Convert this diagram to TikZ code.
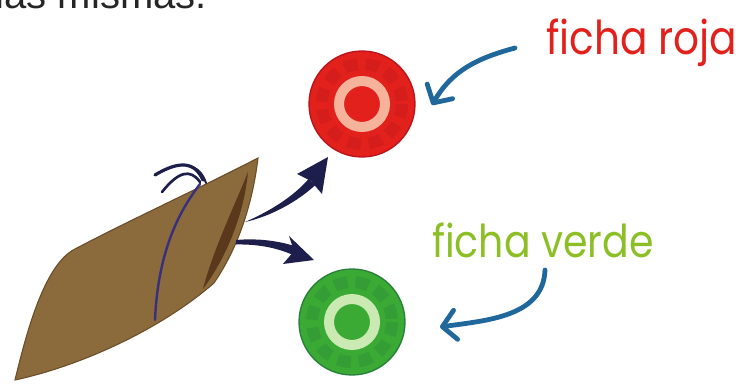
\documentclass[tikz,border=0pt]{standalone}
\usepackage{fontspec}
\usetikzlibrary{arrows.meta}
\newfontfamily\handfont[FakeStretch=0.87]{Poppins}
\newfontfamily\bookfont{Liberation Sans}

\definecolor{rojo}{HTML}{E2211C}
\definecolor{rojoosc}{HTML}{B8141A}
\definecolor{rojoclaro}{HTML}{F5B39C}
\definecolor{verde}{HTML}{3AAA35}
\definecolor{verdeosc}{HTML}{27803A}
\definecolor{verdeclaro}{HTML}{CBE9B2}
\definecolor{verdetexto}{HTML}{8CBF26}
\definecolor{azul}{HTML}{20689C}
\definecolor{marino}{HTML}{1E1E4C}
\definecolor{saco}{HTML}{8B6B3C}
\definecolor{sacoborde}{HTML}{6A4C28}
\definecolor{sacoboca}{HTML}{5A381C}
\definecolor{cordel}{HTML}{3A2E7E}

\begin{document}
\begin{tikzpicture}[x=0.75pt, y=-0.75pt,
    etiqueta/.style={anchor=base west, inner sep=0pt, font=\handfont\fontsize{#1}{40}\selectfont},
    flecha/.style={draw=azul, line width=3.6pt, line cap=round,
      -{Straight Barb[length=10pt, width=22pt, round]}},
    ficha/.style={circle, inner sep=0pt, minimum size=79.5pt, fill=#1},
    marcas/.style={draw=#1, line width=9pt, dash pattern=on 10pt off 6pt, opacity=.3},
    aro/.style={draw=#1, line width=7.5pt}]
  \useasboundingbox (0,0) rectangle (745,385);
  \clip (0,0) rectangle (745,385);

  % texto de arriba, cortado por el borde
  \node[anchor=base east, inner sep=0pt, text=black!85, font=\bookfont\fontsize{30}{36}\selectfont]
    (arriba) at (207,9) {las mismas.};

  % las dos fichas
  \node[ficha=rojo, draw=rojoosc, line width=1pt] (redchip) at (362,104) {};
  \draw[marcas=rojoosc] (redchip) circle (40);
  \draw[aro=rojoclaro] (redchip) circle (23);

  \node[ficha=verde, draw=verdeosc, line width=1pt] (greenchip) at (352,322) {};
  \draw[marcas=verdeosc] (greenchip) circle (40);
  \draw[aro=verdeclaro] (greenchip) circle (23);

  % etiquetas y flechas azules
  \node[etiqueta=35, text=rojo] (roja) at (546,55) {ficha roja};
  \node[etiqueta=34, text=verdetexto] (verdelbl) at (432,257) {ficha verde};
  \coordinate (rojacola) at (515,48);
  \coordinate (rojapunta) at (432,105);
  \coordinate (verdecola) at (545,270);
  \coordinate (verdepunta) at (440,327);
  \draw[flecha] (rojacola) to[out=195, in=60] (rojapunta);
  \draw[flecha] (verdecola) to[out=-92, in=8] (verdepunta);

  % saco
  \draw[fill=saco, draw=sacoborde, line width=.8pt]
    (15,380) .. controls (27,330) and (45,264) .. (75,249)
    .. controls (130,220) and (200,188) .. (258,158)
    .. controls (253,200) and (240,245) .. (214,283)
    .. controls (160,330) and (80,366) .. cycle;
  \fill[sacoboca] (248,172) .. controls (244,215) and (226,258) .. (203,289)
    .. controls (213,250) and (234,207) .. cycle;
  \draw[cordel, line width=1.8pt, line cap=round]
    (200,184) .. controls (180,210) and (158,250) .. (155,320);
  \draw[marino, line width=2.4pt, line cap=round]
    (203,180) .. controls (195,162) and (180,160) .. (155,175);
  \draw[marino, line width=2pt, line cap=round]
    (200,182) .. controls (190,168) and (178,172) .. (162,192);
  \draw[marino, line width=1.5pt, line cap=round]
    (206,183) .. controls (203,174) and (198,168) .. (189,166);

  % flechas del saco a las fichas
  \coordinate (salida1) at (245,222);
  \coordinate (salida2) at (236,242);
  \fill[marino] (salida1) .. controls (268,212) and (292,198) .. (308.7,178.9)
    -- (315.3,185.1) .. controls (298,201) and (272,216) .. (salida1) -- cycle;
  \fill[marino] (328,157) -- (297,174) -- (311,181) -- (322,194) -- cycle;
  \fill[marino] (salida2) ++(0,-2) .. controls (258,238) and (280,241) .. (296.7,246.8)
    -- (293.3,255.2) .. controls (278,248) and (258,244) .. (236,244.5) -- cycle;
  \fill[marino] (314,260) -- (289,236) -- (294,251) -- (283,264) -- cycle;
\end{tikzpicture}
\end{document}
